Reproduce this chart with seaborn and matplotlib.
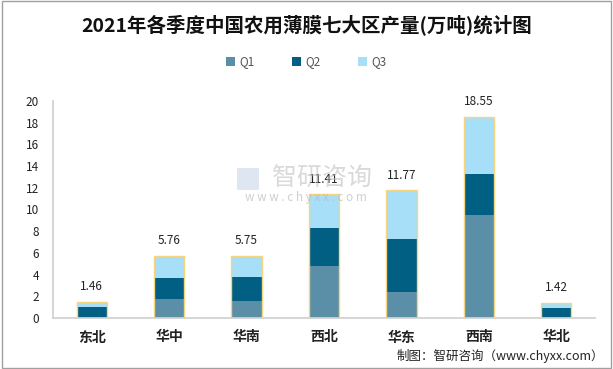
import pandas as pd
import matplotlib.pyplot as plt
import seaborn as sns
from matplotlib.patches import Rectangle, Patch

# data (万吨)
regions = ['东北', '华中', '华南', '西北', '华东', '西南', '华北']
q1 = [0.00, 1.78, 1.60, 4.82, 2.43, 9.52, 0.00]
q2 = [1.04, 1.94, 2.21, 3.51, 4.88, 3.78, 0.95]
q3 = [0.42, 2.04, 1.94, 3.08, 4.46, 5.25, 0.47]
totals = [1.46, 5.76, 5.75, 11.41, 11.77, 18.55, 1.42]

colors = {'Q1': '#5B8FA8', 'Q2': '#005F82', 'Q3': '#A6DFF7'}

df = pd.DataFrame({'region': regions, 'Q1': q1, 'Q2': q2, 'Q3': q3, 'total': totals})
df['c1'] = df['Q1']
df['c2'] = df['Q1'] + df['Q2']
df['c3'] = df['Q1'] + df['Q2'] + df['Q3']

sns.set_theme(style='white')
plt.rcParams['font.family'] = ['Noto Sans CJK SC', 'DejaVu Sans']

fig = plt.figure(figsize=(6.13, 3.69), dpi=100)
ax = fig.add_axes([53 / 613, 1 - 318 / 369, 542 / 613, 217 / 369])

w = 0.39
# stacked bars: cumulative heights drawn tallest first
sns.barplot(data=df, x='region', y='c3', color=colors['Q3'], width=w, ax=ax,
            saturation=1, edgecolor='none')
sns.barplot(data=df, x='region', y='c2', color=colors['Q2'], width=w, ax=ax,
            saturation=1, edgecolor='none')
sns.barplot(data=df, x='region', y='c1', color=colors['Q1'], width=w, ax=ax,
            saturation=1, edgecolor='none')
# yellow outline around the total
sns.barplot(data=df, x='region', y='total', width=w, ax=ax, fill=False,
            edgecolor='#F7D47E', linewidth=1.0)

for i, t in enumerate(totals):
    ax.text(i, t + 0.8, f'{t:.2f}', ha='center', va='bottom', fontsize=8.5, color='#222222')

ax.set_ylim(0, 20)
ax.set_xlim(-0.5, len(regions) - 0.5)
ax.set_yticks(range(0, 21, 2))
ax.tick_params(axis='y', labelsize=8.5, colors='#222222', length=0, pad=10)
ax.tick_params(axis='x', labelsize=10, colors='#222222', length=0, pad=9)
ax.set_xlabel('')
ax.set_ylabel('')
for s in ['top', 'right']:
    ax.spines[s].set_visible(False)
ax.spines['left'].set_color('#D0D0D0')
ax.spines['bottom'].set_color('#D0D0D0')
for lbl in ax.get_xticklabels():
    lbl.set_fontweight('bold')

# legend
handles = [Patch(facecolor=colors[k], edgecolor='none', label=k) for k in ['Q1', 'Q2', 'Q3']]
fig.legend(handles=handles, loc='center', bbox_to_anchor=(0.5, 1 - 62 / 369), ncol=3,
           frameon=False, fontsize=8.5, handlelength=0.7, handleheight=0.7,
           columnspacing=3.2, handletextpad=0.4, labelcolor='#555555')

fig.text(0.5, 1 - 25 / 369, '2021年各季度中国农用薄膜七大区产量(万吨)统计图', ha='center', va='center',
         fontsize=14, fontweight='bold', color='#111111')

# watermark
fig.text(322 / 613, 1 - 178 / 369, '智研咨询', ha='center', va='center', fontsize=18,
         color='#BBBBBB', alpha=0.55, zorder=0)
fig.text(306 / 613, 1 - 198 / 369, 'w w w . c h y x x . c o m', ha='center', va='center',
         fontsize=8.5, color='#BBBBBB', alpha=0.7, zorder=0)
fig.patches.append(Rectangle((237 / 613, 1 - 190 / 369), 22 / 613, 22 / 369,
                             transform=fig.transFigure, facecolor='#C9D6E8',
                             edgecolor='none', alpha=0.6, zorder=0))

fig.text(0.985, 1 - 356 / 369, '制图：智研咨询（www.chyxx.com）', ha='right', va='center',
         fontsize=9, color='#222222')

fig.patches.append(Rectangle((0.003, 0.004), 0.993, 0.992, transform=fig.transFigure,
                             fill=False, edgecolor='#A0A0A0', linewidth=1))

fig.savefig('out.png', dpi=100)
